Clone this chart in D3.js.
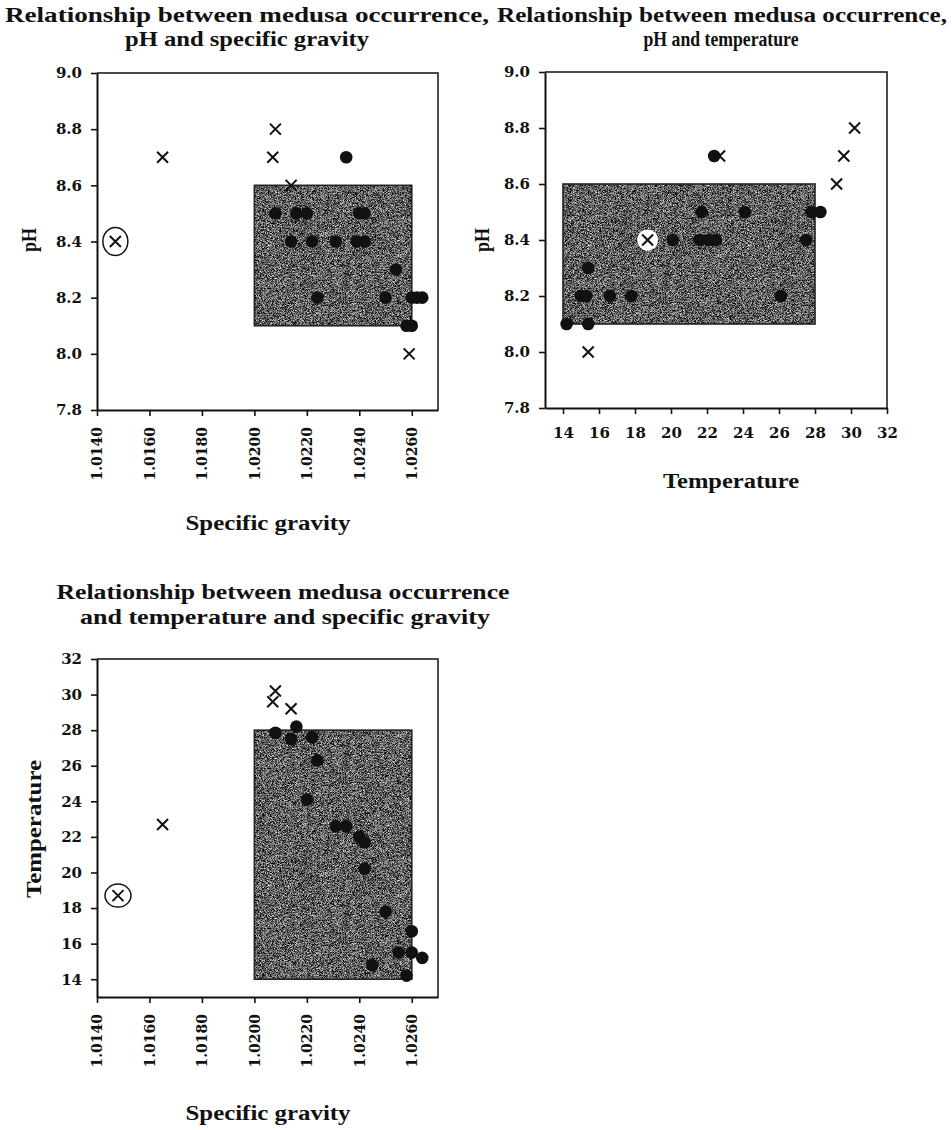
<!DOCTYPE html>
<html>
<head>
<meta charset="utf-8">
<script src="https://cdn.jsdelivr.net/npm/d3@7"></script>
<style>
  body { margin: 0; background: #fff; }
</style>
</head>
<body>
<svg id="chart" width="952" height="1130">
  <defs>
    <filter id="grain" x="0" y="0" width="1" height="1" color-interpolation-filters="sRGB">
      <feTurbulence type="fractalNoise" baseFrequency="1.6" numOctaves="1" seed="7" result="noise"/>
      <feColorMatrix in="noise" type="matrix"
        values="2.0 0 0 0 -0.63  2.0 0 0 0 -0.63  2.0 0 0 0 -0.63  0 0 0 0 1" result="gray"/>
      <feComposite in="gray" in2="SourceGraphic" operator="in"/>
    </filter>
  </defs>
</svg>
<script>
var svg = d3.select("#chart");
var serif = "'Liberation Serif', 'Times New Roman', serif";
var tickFont = "'DejaVu Serif', serif";

// tick values
var sgTicks = [1.014, 1.016, 1.018, 1.020, 1.022, 1.024, 1.026];
var phTicks = [7.8, 8.0, 8.2, 8.4, 8.6, 8.8, 9.0];
var tempTicks = [14, 16, 18, 20, 22, 24, 26, 28, 30, 32];

// shaded ranges
var sgBox = [1.020, 1.026];
var phBox = [8.1, 8.6];
var tempBox = [14, 28];

// pH vs specific gravity
var sgPhDots = [[1.0235, 8.7], [1.0208, 8.5], [1.0216, 8.5], [1.0220, 8.5], [1.0240, 8.5], [1.0242, 8.5],
  [1.0214, 8.4], [1.0222, 8.4], [1.0231, 8.4], [1.0239, 8.4], [1.0242, 8.4], [1.0254, 8.3],
  [1.0224, 8.2], [1.0250, 8.2], [1.0260, 8.2], [1.0262, 8.2], [1.0264, 8.2], [1.0258, 8.1], [1.0260, 8.1]];
var sgPhCrosses = [[1.0165, 8.7], [1.0208, 8.8], [1.0207, 8.7], [1.0214, 8.6], [1.0259, 8.0]];
var sgPhCircled = [[1.0147, 8.4]];

// pH vs temperature
var tempPhDots = [[22.4, 8.7], [21.7, 8.5], [24.1, 8.5], [27.8, 8.5], [28.3, 8.5],
  [20.1, 8.4], [21.6, 8.4], [22.1, 8.4], [22.5, 8.4], [27.5, 8.4], [15.4, 8.3],
  [15.0, 8.2], [15.3, 8.2], [16.6, 8.2], [17.8, 8.2], [26.1, 8.2], [14.2, 8.1], [15.4, 8.1]];
var tempPhCrosses = [[22.7, 8.7], [30.2, 8.8], [29.6, 8.7], [29.2, 8.6], [15.4, 8.0]];
var tempPhCircled = [[18.7, 8.4]];

// temperature vs specific gravity
var sgTempDots = [[1.0208, 27.85], [1.0216, 28.2], [1.0214, 27.5], [1.0222, 27.6], [1.0224, 26.3],
  [1.0220, 24.1], [1.0231, 22.6], [1.0235, 22.6], [1.0240, 22.0], [1.0242, 21.7], [1.0242, 20.2],
  [1.0250, 17.8], [1.0260, 16.7], [1.0255, 15.5], [1.0260, 15.5], [1.0264, 15.2], [1.0245, 14.8], [1.0258, 14.2]];
var sgTempCrosses = [[1.0165, 22.7], [1.0208, 30.2], [1.0207, 29.6], [1.0214, 29.2]];
var sgTempCircled = [[1.0148, 18.7]];

var crossPath = "M-5.5,-5.5L5.5,5.5M-5.5,5.5L5.5,-5.5";

function label(txt, x, y, size, width, rot) {
  var t = svg.append("text")
    .attr("x", x).attr("y", y)
    .attr("text-anchor", "middle")
    .style("font-family", serif).style("font-weight", "bold").style("font-size", size + "px")
    .attr("fill", "#111")
    .text(txt);
  if (width) t.attr("textLength", width).attr("lengthAdjust", "spacingAndGlyphs");
  if (rot) t.attr("transform", "rotate(-90," + x + "," + y + ")");
  return t;
}

function drawPanel(p) {
  var x = d3.scaleLinear().domain(p.xDomain).range([p.left, p.right]);
  var y = d3.scaleLinear().domain(p.yDomain).range([p.bottom, p.top]);
  var g = svg.append("g");

  // grey box of the favourable range
  var bx = x(p.xBox[0]), bw = x(p.xBox[1]) - bx;
  var by = y(p.yBox[1]), bh = y(p.yBox[0]) - by;
  g.append("rect").attr("x", bx).attr("y", by).attr("width", bw).attr("height", bh)
    .attr("fill", "#777").attr("filter", "url(#grain)");
  g.append("rect").attr("x", bx).attr("y", by).attr("width", bw).attr("height", bh)
    .attr("fill", "none").attr("stroke", "#222").attr("stroke-width", 1.6);

  // top and right frame
  g.append("path")
    .attr("d", "M" + p.left + "," + p.top + "H" + p.right + "V" + p.bottom)
    .attr("fill", "none").attr("stroke", "#111").attr("stroke-width", 1.5);

  var xa = g.append("g").attr("transform", "translate(0," + p.bottom + ")")
    .call(d3.axisBottom(x).tickValues(p.xTicks).tickSize(6).tickSizeOuter(0)
      .tickPadding(13).tickFormat(p.xFormat));
  var ya = g.append("g").attr("transform", "translate(" + p.left + ",0)")
    .call(d3.axisLeft(y).tickValues(p.yTicks).tickSize(6).tickSizeOuter(0)
      .tickPadding(9).tickFormat(p.yFormat));
  [xa, ya].forEach(function (a) {
    a.attr("font-family", null).attr("font-size", null);
    a.select(".domain").attr("stroke", "#111").attr("stroke-width", 2);
    a.selectAll(".tick line").attr("stroke", "#111").attr("stroke-width", 1.6);
    a.selectAll(".tick text")
      .style("font-family", tickFont).style("font-weight", "bold").style("font-size", "15px")
      .attr("fill", "#111");
  });
  if (p.rotateX) {
    xa.selectAll(".tick text")
      .style("font-size", "14px")
      .attr("transform", "rotate(-90)")
      .attr("x", -17).attr("y", 0).attr("dy", "0.35em")
      .attr("text-anchor", "end");
  }

  // no-medusa crosses, then medusa dots
  g.selectAll(".cross").data(p.crosses).join("path")
    .attr("class", "cross")
    .attr("d", crossPath)
    .attr("transform", function (d) { return "translate(" + x(d[0]) + "," + y(d[1]) + ")"; })
    .attr("stroke", "#111").attr("stroke-width", 2).attr("fill", "none");

  g.selectAll(".dot").data(p.dots).join("circle")
    .attr("class", "dot")
    .attr("cx", function (d) { return x(d[0]); })
    .attr("cy", function (d) { return y(d[1]); })
    .attr("r", 6.3)
    .attr("fill", "#111");

  // the circled cross
  var c = g.selectAll(".circled").data(p.circled).join("g")
    .attr("class", "circled")
    .attr("transform", function (d) { return "translate(" + x(d[0]) + "," + y(d[1]) + ")"; });
  if (p.disc) {
    c.append("circle").attr("r", 10.5).attr("fill", "#fff");
  } else {
    c.append("ellipse").attr("rx", p.ring[0]).attr("ry", p.ring[1])
      .attr("fill", "none").attr("stroke", "#111").attr("stroke-width", 1.5);
  }
  c.append("path").attr("d", crossPath)
    .attr("stroke", "#111").attr("stroke-width", 2).attr("fill", "none");
}

var fmtSg = d3.format(".4f");
var fmtPh = d3.format(".1f");
var fmtInt = d3.format("d");

drawPanel({
  left: 97, right: 438, top: 73, bottom: 410,
  xDomain: [1.014, 1.027], yDomain: [7.8, 9.0],
  xTicks: sgTicks, yTicks: phTicks, xFormat: fmtSg, yFormat: fmtPh, rotateX: true,
  xBox: sgBox, yBox: phBox,
  dots: sgPhDots, crosses: sgPhCrosses, circled: sgPhCircled, ring: [12.5, 14]
});

drawPanel({
  left: 545, right: 887, top: 72, bottom: 408,
  xDomain: [13, 32], yDomain: [7.8, 9.0],
  xTicks: tempTicks, yTicks: phTicks, xFormat: fmtInt, yFormat: fmtPh, rotateX: false,
  xBox: tempBox, yBox: phBox,
  dots: tempPhDots, crosses: tempPhCrosses, circled: tempPhCircled, disc: true
});

drawPanel({
  left: 97, right: 438, top: 659, bottom: 997,
  xDomain: [1.014, 1.027], yDomain: [13, 32],
  xTicks: sgTicks, yTicks: tempTicks, xFormat: fmtSg, yFormat: fmtInt, rotateX: true,
  xBox: sgBox, yBox: tempBox,
  dots: sgTempDots, crosses: sgTempCrosses, circled: sgTempCircled, ring: [13, 11.5]
});

// titles
label("Relationship between medusa occurrence,", 247, 22, 21, 484);
label("pH and specific gravity", 247, 46, 21, 244);
label("Relationship between medusa occurrence,", 722, 22, 21, 450);
label("pH and temperature", 721, 46, 21, 155);
label("Relationship between medusa occurrence", 283, 599, 21, 453);
label("and temperature and specific gravity", 285, 624, 21, 410);

// axis titles
label("pH", 36, 240, 20, 24, true);
label("pH", 489, 240, 20, 24, true);
label("Temperature", 41, 829, 20, 138, true);
label("Specific gravity", 268, 530, 20, 165);
label("Temperature", 731, 488, 20, 136);
label("Specific gravity", 268, 1120, 20, 165);
</script>
</body>
</html>
